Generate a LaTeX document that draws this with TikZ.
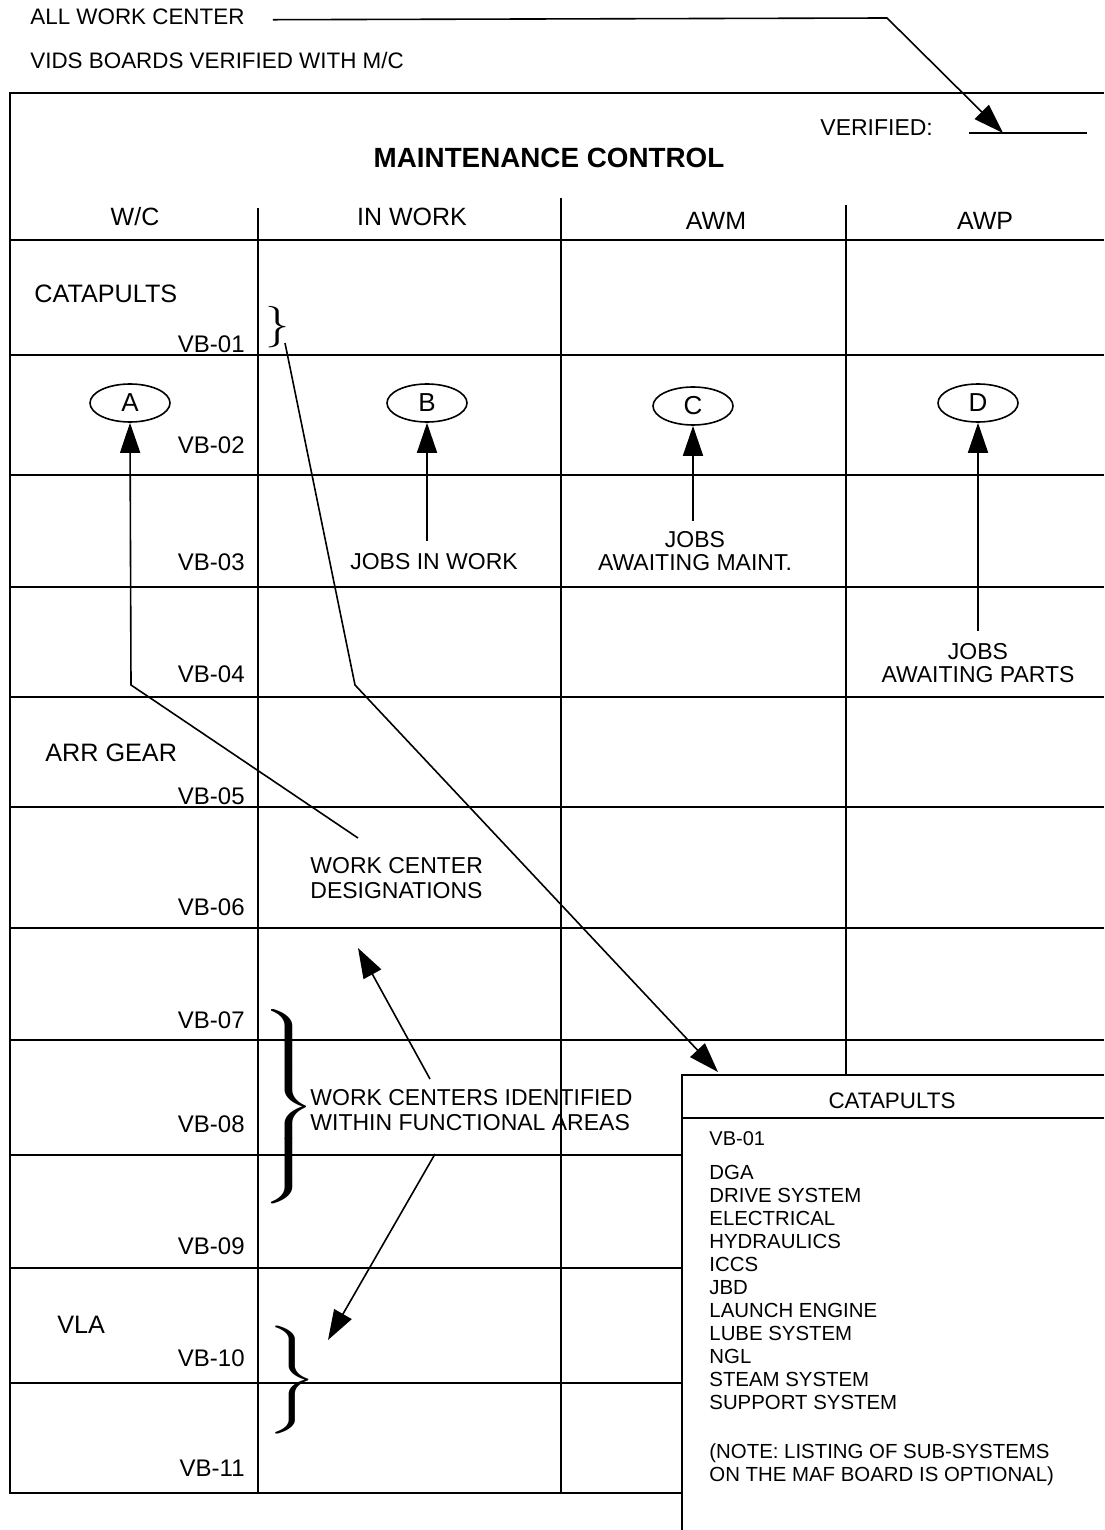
\documentclass[tikz,border=0pt]{standalone}
\newcommand{\curlybrace}[1]{%
  $\left.\vrule height #1 depth #1 width 0pt\right\}$%
}
\usepackage{fontspec}
\setmainfont{Liberation Sans}
\usetikzlibrary{
  arrows.meta,
  shapes.geometric
}

\begin{document}
\begin{tikzpicture}[x=0.5pt, y=-0.5pt]

\tikzset{
  rowlab/.style={
    anchor=base east,
    inner sep=0pt,
    font=\fontsize{12}{14}\selectfont
  },
  grouplab/.style={
    anchor=base west,
    inner sep=0pt,
    font=\fontsize{12.6}{14}\selectfont
  },
  colhead/.style={
    anchor=base,
    inner sep=0pt,
    font=\fontsize{12.5}{14}\selectfont
  },
  letter/.style={
    draw,
    ellipse,
    minimum width=40pt,
    minimum height=19pt,
    inner sep=0pt,
    line width=0.8pt,
    font=\fontsize{13}{14}\selectfont
  },
  remark/.style={
    align=center,
    inner sep=0pt,
    font=\fontsize{11.5}{11.5}\selectfont
  },
  listing/.style={
    anchor=north west,
    align=left,
    inner sep=0pt,
    font=\fontsize{10.2}{11.5}\selectfont
  },
  bracket/.style={
    inner sep=0pt,
    xscale=3.2,
    yscale=1.8
  },
  board/.style={line width=1pt},
  pointer/.style={line width=0.8pt},
  >={Triangle[length=15pt, width=10pt]}
}

\useasboundingbox (0,0) rectangle (1104,1530);

% BOARD ----------------------------------------------------------

% Frame, header line and columns
\draw[board] (1104,93) -- (10,93) -- (10,1493) -- (682,1493);
\draw[board] (10,240) -- (1104,240);
\foreach \y in {355,475,587,697,807,928,1040}
  \draw[board] (10,\y) -- (1104,\y);
\foreach \y in {1155,1268,1383}
  \draw[board] (10,\y) -- (682,\y);
\draw[board] (258,208) -- (258,1493);
\draw[board] (561,198) -- (561,1493);
\draw[board] (846,205) -- (846,1075);

% Inset board (MAF)
\draw[board] (682,1530) -- (682,1075) -- (1104,1075);
\draw[board] (682,1118) -- (1104,1118);

% Verified line
\draw[board] (969,133) -- (1087,133);

% NODES ----------------------------------------------------------

% Texts above the board
\node[anchor=base west, inner sep=0pt, font=\fontsize{11.2}{12}\selectfont]
  (allwc) at (30,25) {ALL WORK CENTER};
\node[anchor=base west, inner sep=0pt, font=\fontsize{11.2}{12}\selectfont]
  (vids) at (30,69) {VIDS BOARDS VERIFIED WITH M/C};

% Title
\node[anchor=base west, inner sep=0pt, font=\fontsize{11.5}{12}\selectfont]
  (verified) at (820,136) {VERIFIED:};
\node[anchor=base, inner sep=0pt, font=\fontsize{13.9}{16}\bfseries]
  (title) at (549,168) {MAINTENANCE CONTROL};

% Column headers
\node[colhead] (wchead)  at (135,226) {W/C};
\node[colhead] (iwhead)  at (412,226) {IN WORK};
\node[colhead] (awmhead) at (716,229) {AWM};
\node[colhead] (awphead) at (985,229) {AWP};

% Row labels
\foreach \n/\y in {01/352,02/453,03/570,04/682,05/804,06/915,
                   07/1028,08/1132,09/1254,10/1366,11/1476}
  \node[rowlab] (vb\n) at (245,\y) {VB-\n};
\node[grouplab] (catgrp) at (34,302)  {CATAPULTS};
\node[grouplab] (arrgrp) at (45,761)  {ARR GEAR};
\node[grouplab] (vlagrp) at (57,1333) {VLA};

% Letters
\node[letter] (letA) at (130,403) {A};
\node[letter] (letB) at (427,403) {B};
\node[letter] (letC) at (693,406) {C};
\node[letter] (letD) at (978,403) {D};

% Remarks
\node[remark, anchor=base] (jobsiw) at (434,569) {JOBS IN WORK};
\node[remark] (jobsam) at (695,551) {JOBS\\AWAITING MAINT.};
\node[remark] (jobsap) at (978,663) {JOBS\\AWAITING PARTS};
\node[remark, align=left, anchor=north west,
      font=\fontsize{11.5}{12.5}\selectfont]
  (wcdes) at (310,857) {WORK CENTER\\DESIGNATIONS};
\node[remark, align=left, anchor=north west,
      font=\fontsize{11.5}{12.5}\selectfont]
  (wcid) at (310,1089) {WORK CENTERS IDENTIFIED\\WITHIN FUNCTIONAL AREAS};

% Braces
\node[inner sep=0pt, xscale=1.4, yscale=1.2, font=\fontsize{18}{18}\selectfont]
  (br1) at (278,327) {$\}$};
\node[bracket] (br2) at (285,1111) {\curlybrace{27pt}};
\node[bracket] (br3) at (288,1380) {\curlybrace{12pt}};

% Inset contents
\node[anchor=base, inner sep=0pt, font=\fontsize{11.2}{12}\selectfont]
  (insethead) at (892,1108) {CATAPULTS};
\node[anchor=base west, inner sep=0pt, font=\fontsize{10}{12}\selectfont]
  (insetvb) at (709,1145) {VB-01};
\node[listing] (subsys) at (709,1165)
  {DGA\\DRIVE SYSTEM\\ELECTRICAL\\HYDRAULICS\\ICCS\\JBD\\LAUNCH ENGINE\\
   LUBE SYSTEM\\NGL\\STEAM SYSTEM\\SUPPORT SYSTEM};
\node[listing] (optnote) at (709,1443)
  {(NOTE: LISTING OF SUB-SYSTEMS\\ON THE MAF BOARD IS OPTIONAL)};

% Coordinates
\coordinate (allwcbend) at (887,18);
\coordinate (verif)     at (1003,133);
\coordinate (wcstart)   at (358,838);
\coordinate (wcbend)    at (131,685);
\coordinate (vbstart)   at (285,343);
\coordinate (vbbend)    at (355,685);
\coordinate (insettop)  at (718,1072);
\coordinate (wcidup)    at (430,1079);
\coordinate (wcdesarr)  at (358,948);
\coordinate (wciddown)  at (435,1154);
\coordinate (vlaarr)    at (328,1340);

% DRAWS ---------------------------------------------------------

\draw[->, pointer] ([xshift=14pt]allwc.mid east) -- (allwcbend) -- (verif);
\draw[->, pointer] (wcstart) -- (wcbend) -- (letA.south);
\draw[->, pointer] ([yshift=6pt]letB |- jobsiw.north) -- (letB.south);
\draw[->, pointer] ([yshift=5pt]letC |- jobsam.north) -- (letC.south);
\draw[->, pointer] ([yshift=6pt]jobsap.north -| letD) -- (letD.south);
\draw[->, pointer] (vbstart) -- (vbbend) -- (insettop);
\draw[->, pointer] (wcidup) -- (wcdesarr);
\draw[->, pointer] (wciddown) -- (vlaarr);

\end{tikzpicture}
\end{document}
